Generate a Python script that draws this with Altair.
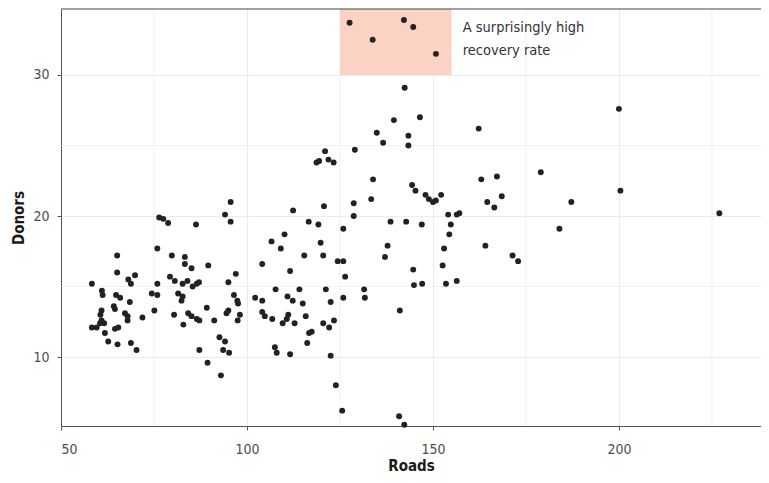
import altair as alt
import pandas as pd

# ---- data ----
roads = [
    95.6, 76.4, 77.5, 78.8, 86.3, 94.1, 95.6,
    75.9, 65.1, 65.1, 69.9, 68.1, 68.8, 58.3, 75.9, 61.0, 61.2, 64.8, 65.9, 68.5, 74.4, 75.9, 64.2, 64.5,
    60.9, 60.6, 67.2, 67.9, 67.9, 71.9, 75.1, 60.9, 60.5, 61.6, 58.3, 59.6, 64.5, 65.4, 61.8, 62.7, 65.2,
    68.8, 70.3,
    79.8, 83.3, 83.3, 85.1, 89.6, 97.0, 79.3, 80.6, 82.7, 84.0, 85.4, 86.5, 87.1, 95.0, 81.5, 82.7, 82.4,
    96.5, 97.4, 97.6, 102.2, 80.4, 82.9, 84.2, 85.1, 86.5, 87.2, 89.2, 91.2, 95.0, 94.5, 98.1, 97.5, 92.6,
    94.1, 93.6, 95.2, 87.2, 89.4, 93.0,
    139.5, 146.5, 134.9, 136.6, 143.4, 143.4, 121.0, 129.0, 118.7, 119.4, 121.9, 123.3, 133.9, 144.4,
    145.3, 148.0, 148.9, 150.0, 150.8, 152.2, 133.4, 128.7, 120.7, 112.4, 128.7, 116.6, 119.2, 138.6,
    142.8, 147.0, 125.9, 110.1, 106.6, 109.1, 119.8, 137.8,
    115.4, 120.5, 124.4, 125.9, 137.1, 104.1, 111.6, 126.4, 144.7, 144.9, 147.1, 104.1, 107.7, 110.9,
    112.3, 114.1, 115.0, 121.2, 122.5, 125.9, 131.5, 131.7, 141.1, 104.1, 104.8, 106.8, 111.1, 110.7,
    109.6, 112.8, 115.8, 120.5, 122.1, 123.4, 117.4, 116.7, 116.2, 107.5, 108.0, 111.6, 122.5, 123.9,
    125.6, 140.9, 142.3,
    162.3, 200.0, 179.0, 163.0, 167.2, 164.6, 166.5, 168.5, 187.2, 200.4, 154.1, 156.4, 157.1, 154.8,
    154.4, 184.0, 153.0, 164.1, 171.4, 172.9, 152.6, 153.5, 156.4,
    227.0,
    127.6, 133.8, 142.2, 144.7, 150.8, 142.4,
]
donors = [
    21.0, 19.9, 19.8, 19.5, 19.4, 20.1, 19.6,
    17.7, 17.2, 16.0, 15.8, 15.5, 15.2, 15.2, 15.2, 14.7, 14.4, 14.4, 14.2, 13.9, 14.5, 14.4, 13.6, 13.4,
    13.3, 13.0, 13.1, 12.9, 12.6, 12.8, 13.3, 12.6, 12.4, 12.4, 12.1, 12.1, 12.0, 12.1, 11.7, 11.1, 10.9,
    11.0, 10.5,
    17.2, 17.1, 16.6, 16.3, 16.5, 15.9, 15.7, 15.4, 15.2, 15.4, 15.0, 15.2, 15.3, 15.3, 14.5, 14.3, 14.0,
    14.4, 14.0, 13.8, 14.2, 13.0, 12.3, 13.1, 12.9, 12.7, 12.6, 13.5, 12.6, 13.3, 13.1, 13.0, 12.6, 11.4,
    11.1, 10.5, 10.3, 10.5, 9.6, 8.7,
    26.8, 27.0, 25.9, 25.2, 25.7, 25.0, 24.6, 24.7, 23.8, 23.9, 24.0, 23.8, 22.6, 22.2,
    21.8, 21.5, 21.2, 21.0, 21.1, 21.5, 21.2, 20.9, 20.7, 20.4, 20.0, 19.6, 19.4, 19.6,
    19.6, 19.4, 19.1, 18.7, 18.2, 17.7, 18.1, 17.9,
    17.2, 17.2, 16.8, 16.8, 17.1, 16.6, 16.1, 15.7, 16.2, 15.1, 15.2, 14.0, 14.8, 14.3,
    14.0, 14.8, 13.8, 14.8, 13.9, 14.2, 14.8, 14.2, 13.3, 13.2, 12.9, 12.7, 13.0, 12.7,
    12.4, 12.4, 12.9, 12.4, 12.1, 12.6, 11.8, 11.7, 11.0, 10.7, 10.3, 10.2, 10.1, 8.0,
    6.2, 5.8, 5.2,
    26.2, 27.6, 23.1, 22.6, 22.8, 21.0, 20.6, 21.4, 21.0, 21.8, 20.1, 20.1, 20.2, 19.4,
    18.7, 19.1, 17.7, 17.9, 17.2, 16.8, 16.5, 15.2, 15.4,
    20.2,
    33.7, 32.5, 33.9, 33.4, 31.5, 29.1,
]

x_major = [50, 100, 150, 200]
x_minor = [75, 125, 175, 225]
y_major = [10, 20, 30]
y_minor = [15, 25]
x_domain = [50, 238.2]
y_domain = [5.11, 34.68]

highlight = {"x": [125], "x2": [155], "y": [30], "y2": [35]}
note_lines = ["A surprisingly high", "recovery rate"]
note_pos = (158.0, 33.33)

FONT = "DejaVu Sans Condensed, DejaVu Sans, sans-serif"

df = pd.DataFrame({"Roads": roads, "Donors": donors})
xs = alt.Scale(domain=x_domain, nice=False, zero=False)
ys = alt.Scale(domain=y_domain, nice=False, zero=False, clamp=True)

x_axis = alt.Axis(values=x_major, grid=True, gridColor="#ebebeb", gridWidth=1.1, orient="bottom",
                  tickSize=4, labelPadding=12, titleBaseline="alphabetic", titleY=44)
y_axis = alt.Axis(values=y_major, grid=True, gridColor="#ebebeb", gridWidth=1.1, orient="left",
                  tickSize=4, labelPadding=8, titleX=-35)


def X(field):
    return alt.X(field, scale=xs, title="Roads", axis=x_axis)


def Y(field):
    return alt.Y(field, scale=ys, title="Donors", axis=y_axis)


minor_x = alt.Chart(pd.DataFrame({"v": x_minor})).mark_rule(
    color="#ebebeb", strokeWidth=0.7).encode(x=X("v:Q"))
minor_y = alt.Chart(pd.DataFrame({"v": y_minor})).mark_rule(
    color="#ebebeb", strokeWidth=0.7).encode(y=Y("v:Q"))

rect = alt.Chart(pd.DataFrame(highlight)).mark_rect(
    color="#fbd3c4", opacity=1).encode(
    x=X("x:Q"), x2="x2:Q", y=Y("y:Q"), y2="y2:Q")

points = alt.Chart(df).mark_circle(size=35, color="#222222", opacity=1).encode(
    x=X("Roads:Q"), y=Y("Donors:Q"))

note = alt.Chart(pd.DataFrame({"a": [0]})).mark_text(
    text=note_lines, align="left", baseline="middle", lineHeight=22.5,
    fontSize=14.5, font=FONT, color="#333333").encode(
    x=alt.datum(note_pos[0], scale=xs, title="Roads", axis=x_axis),
    y=alt.datum(note_pos[1], scale=ys, title="Donors", axis=y_axis))

top = alt.Chart(pd.DataFrame({"a": [0]})).mark_rule(color="#444444", strokeWidth=1).encode(
    y=alt.datum(y_domain[1], scale=ys, title="Donors", axis=y_axis))

chart = alt.layer(minor_x, minor_y, rect, points, note, top).properties(
    width=700, height=417,
    padding={"left": 53, "top": 1, "right": 0, "bottom": 47},
    autosize=alt.AutoSizeParams(type="none"),
).configure_view(strokeWidth=0, stroke="transparent").configure_axis(
    labelFont=FONT, titleFont=FONT, labelFontSize=14, titleFontSize=15,
    titleFontWeight="bold", labelColor="#4d4d4d", titleColor="#1a1a1a",
    domainColor="#555555", tickColor="#555555", domainWidth=1, tickWidth=1,
)

chart.save("out.html", embed_options={"renderer": "svg", "actions": False})
